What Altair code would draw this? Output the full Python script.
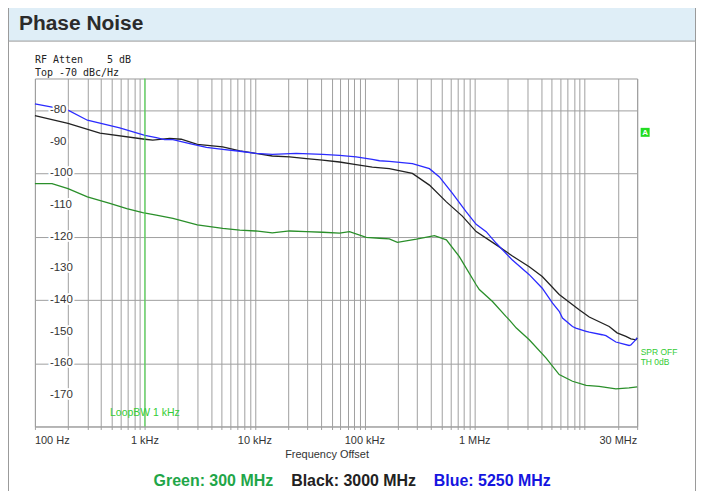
import altair as alt
import pandas as pd

# ---------------- data ----------------
black_f = [100, 200, 390, 1000, 1180, 1680, 2140, 3000, 5100, 7300, 10200, 14400, 20700,
           29400, 41300, 58900, 83300, 117000, 167000, 271000, 387000, 552000, 771000,
           1.03e6, 1.57e6, 2.2e6, 3.13e6, 4.11e6, 5.86e6, 8.9e6, 1.1e7, 1.67e7, 1.97e7,
           2.37e7, 2.63e7, 2.92e7, 3.0e7]
black_db = [-81.7, -84.2, -87.3, -89.2, -89.5, -88.9, -89.2, -90.8, -91.6, -92.9, -93.7, -94.5, -94.8,
            -95.3, -95.8, -96.4, -97.2, -98.0, -98.5, -100.0, -103.7, -109.0, -113.5,
            -118.4, -122.6, -126.1, -129.5, -132.6, -138.3, -143.1, -145.4, -148.4, -150.4,
            -151.5, -152.3, -152.6, -152.0]

blue_f = [100, 200, 300, 590, 1000, 1270, 1510, 1800, 2560, 3630, 5100, 7300, 10200, 14400,
          23800, 41300, 58900, 83300, 117000, 136000, 167000, 271000, 387000, 477000, 627000,
          834000, 1.03e6, 1.27e6, 1.57e6, 2.2e6, 3.13e6, 4.11e6, 5.1e6, 5.86e6, 6.28e6, 7.74e6,
          8.3e6, 1.03e7, 1.1e7, 1.44e7, 1.56e7, 1.92e7, 2.53e7, 2.63e7, 2.82e7, 3.0e7]
blue_db = [-78.0, -80.0, -83.2, -85.6, -88.0, -88.7, -89.3, -89.3, -90.6, -91.8, -92.4, -93.0, -93.7, -94.0,
           -93.7, -94.0, -94.3, -94.8, -95.6, -96.0, -96.2, -96.9, -98.5, -101.1, -106.3,
           -112.1, -116.1, -118.4, -122.1, -127.4, -132.0, -136.3, -141.0, -143.6, -145.7, -148.4,
           -148.9, -149.9, -150.2, -151.0, -151.3, -153.3, -154.4, -154.2, -153.1, -152.0]

green_f = [100, 143, 200, 300, 480, 685, 955, 1270, 1800, 3000, 5100, 7300, 10200, 14400,
           20700, 29400, 41300, 58900, 72600, 103000, 136000, 167000, 198000, 295000, 430000,
           552000, 724000, 1.03e6, 1.1e6, 1.45e6, 1.92e6, 2.06e6, 2.39e6, 3.13e6, 4.44e6,
           5.86e6, 7.74e6, 1.03e7, 1.35e7, 1.92e7, 2.53e7, 3.0e7]
green_db = [-103.2, -103.2, -104.8, -107.4, -109.5, -111.1, -112.4, -113.2, -114.2, -116.3, -117.4, -117.9, -118.2, -118.8,
            -118.2, -118.4, -118.6, -118.9, -118.4, -120.2, -120.5, -120.7, -121.8, -120.8, -119.7,
            -121.0, -126.3, -135.2, -136.7, -140.5, -145.2, -146.3, -148.9, -152.6, -158.3,
            -163.6, -165.7, -167.0, -167.3, -168.1, -167.8, -167.5]

grid_freqs = [k * 10 ** d for d in range(2, 7) for k in range(1, 10)] + [1e7, 2e7, 3e7]
y_grid = list(range(-180, -69, 10))
y_label_vals = list(range(-170, -79, 10))

x_label_left = ["100 Hz"]
x_label_left_f = [100]
x_label_mid = ["1 kHz", "10 kHz", "100 kHz", "1 MHz"]
x_label_mid_f = [1e3, 1e4, 1e5, 1e6]
x_label_right = ["30 MHz"]
x_label_right_f = [3e7]

series_names = ["Green", "Black", "Blue"]
series_colors = ["#2a8f2a", "#222222", "#2b2bff"]

loop_bw_f = [1000]

# ---------------- build ----------------
rows = []
for name, fs, ds in [("Green", green_f, green_db), ("Black", black_f, black_db), ("Blue", blue_f, blue_db)]:
    for i, (f, d) in enumerate(zip(fs, ds)):
        rows.append({"series": name, "f": f, "db": d, "i": i})
df = pd.DataFrame(rows)

FONT = "Liberation Sans"
W, H = 604, 349
NB = "\u00a0"

xscale = alt.Scale(type="log", domain=[100, 3e7], nice=False)
yscale = alt.Scale(domain=[-180, -70], nice=False)

xaxis = alt.Axis(values=grid_freqs, grid=True, gridColor="#a0a0a0", gridWidth=1, gridOpacity=1,
                 labels=False, ticks=True, tickSize=3, tickColor="#a0a0a0", domain=False, title=None)
yaxis = alt.Axis(values=y_grid, grid=True, gridColor="#a0a0a0", gridWidth=1, gridOpacity=1,
                 labels=False, ticks=False, domain=False, title=None)

lines = alt.Chart(df).mark_line(strokeWidth=1.3).encode(
    x=alt.X("f:Q", scale=xscale, axis=xaxis),
    y=alt.Y("db:Q", scale=yscale, axis=yaxis),
    color=alt.Color("series:N", scale=alt.Scale(domain=series_names, range=series_colors), legend=None),
    order="i:Q",
    detail="series:N",
)

ylab_df = pd.DataFrame({"v": y_label_vals, "t": [str(v) for v in y_label_vals]})
ylab_halo = alt.Chart(ylab_df).mark_text(align="left", baseline="middle", font=FONT, fontSize=11.5,
                                         stroke="white", strokeWidth=4, fill="white").encode(
    x=alt.value(15), y=alt.Y("v:Q", scale=yscale), text="t:N")
ylab = alt.Chart(ylab_df).mark_text(align="left", baseline="middle", font=FONT, fontSize=11.5,
                                    color="#333333").encode(
    x=alt.value(15), y=alt.Y("v:Q", scale=yscale), text="t:N")

def xlab(labels, freqs, align):
    d = pd.DataFrame({"f": freqs, "t": labels})
    return alt.Chart(d).mark_text(align=align, baseline="alphabetic", font=FONT, fontSize=11,
                                  color="#333333").encode(
        x=alt.X("f:Q", scale=xscale), y=alt.value(367), text="t:N")

xl1 = xlab(x_label_left, x_label_left_f, "left")
xl2 = xlab(x_label_mid, x_label_mid_f, "center")
xl3 = xlab(x_label_right, x_label_right_f, "right")

loop_df = pd.DataFrame({"f": loop_bw_f, "t": ["LoopBW 1 kHz"]})
loop_rule = alt.Chart(loop_df).mark_rule(color="#44dd44", strokeWidth=1).encode(
    x=alt.X("f:Q", scale=xscale), y=alt.value(0), y2=alt.value(H))
loop_text = alt.Chart(loop_df).mark_text(align="center", baseline="alphabetic", font=FONT,
                                         fontSize=10.5, color="#33cc33").encode(
    x=alt.X("f:Q", scale=xscale), y=alt.value(338), text="t:N")

one = pd.DataFrame({"a": [0]})

def txt(s, x, y, size, color, align="left", weight="normal", font=FONT, baseline="alphabetic"):
    return alt.Chart(one).mark_text(text=s, align=align, baseline=baseline, font=font, fontSize=size,
                                    color=color, fontWeight=weight).encode(
        x=alt.value(x), y=alt.value(y))

header = alt.Chart(one).mark_rect(fill="#dfeef7", stroke="#9a9a9a", strokeWidth=1).encode(
    x=alt.value(-26.5), x2=alt.value(662.5), y=alt.value(-80), y2=alt.value(-37.5))
left_border = alt.Chart(one).mark_rule(color="#9a9a9a", strokeWidth=1).encode(
    x=alt.value(-26.5), y=alt.value(-37.5), y2=alt.value(440))
right_border = alt.Chart(one).mark_rule(color="#9a9a9a", strokeWidth=1).encode(
    x=alt.value(662.5), y=alt.value(-37.5), y2=alt.value(440))

title = txt("Phase Noise", -16, -49, 21, "#2b2b2b", weight="bold")
rf = txt("RF" + NB + "Atten" + NB * 4 + "5" + NB + "dB", 0, -16, 10, "#222222", font="DejaVu Sans Mono")
top = txt("Top" + NB + "-70" + NB + "dBc/Hz", 0, -3, 10, "#222222", font="DejaVu Sans Mono")

a_box = alt.Chart(one).mark_rect(fill="#22dd22").encode(
    x=alt.value(607.5), x2=alt.value(616.5), y=alt.value(49.5), y2=alt.value(58.5))
a_txt = txt("A", 612, 54.5, 8, "white", align="center", weight="bold", baseline="middle")
spr = txt("SPR OFF", 607.5, 277, 8.5, "#33cc33")
th = txt("TH 0dB", 607.5, 287.5, 8.5, "#33cc33")

xtitle = txt("Frequency Offset", 293, 381, 11, "#333333", align="center")
leg_g = txt("Green: 300 MHz", 119, 409, 16, "#1fa648", weight="bold")
leg_k = txt("Black: 3000 MHz", 257, 409, 16, "#222222", weight="bold")
leg_b = txt("Blue: 5250 MHz", 400, 409, 16, "#1515e0", weight="bold")

chart = alt.layer(
    header, left_border, right_border,
    lines, loop_rule,
    ylab_halo, ylab, xl1, xl2, xl3, loop_text,
    title, rf, top, a_box, a_txt, spr, th, xtitle, leg_g, leg_k, leg_b,
).properties(
    width=W, height=H,
    autosize=alt.AutoSizeParams(type="none"),
    padding={"left": 27, "top": 70, "right": 59, "bottom": 64},
).configure_view(stroke="#9a9a9a", strokeWidth=1)

chart.save("out.html", embed_options={"renderer": "svg", "actions": False})
